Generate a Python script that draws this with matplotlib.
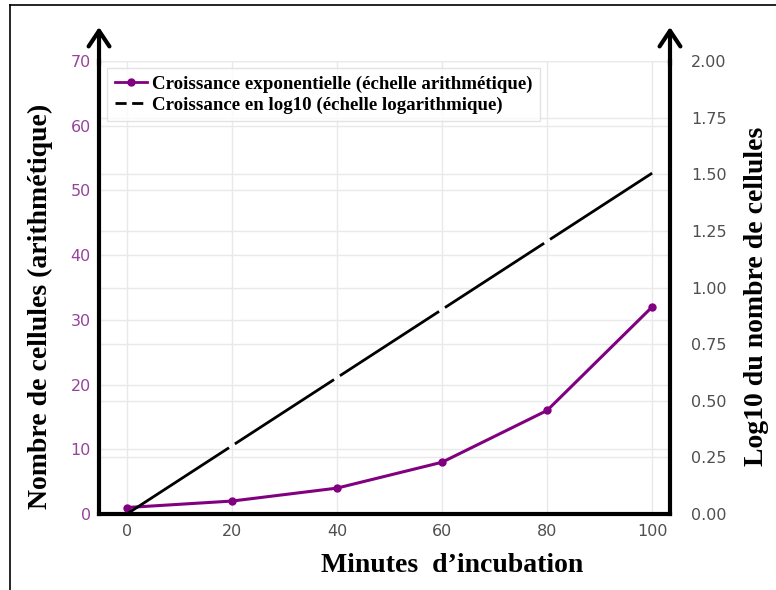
import matplotlib
matplotlib.use("Agg")
import matplotlib.pyplot as plt
from matplotlib.lines import Line2D

# Incubation time (minutes) and cell counts
minutes = [0, 20, 40, 60, 80, 100]
cells = [1, 2, 4, 8, 16, 32]
log_cells = [0.0, 0.301, 0.602, 0.903, 1.204, 1.505]

x_ticks = [0, 20, 40, 60, 80, 100]
left_ticks = [0, 10, 20, 30, 40, 50, 60, 70]
right_ticks = [0.00, 0.25, 0.50, 0.75, 1.00, 1.25, 1.50, 1.75, 2.00]

purple = "#800080"
purple_lbl = "#96449a"
gray_lbl = "#4f4f4f"
grid_c = "#e9e9e9"
serif = ["Liberation Serif", "DejaVu Serif"]

fig = plt.figure(figsize=(7.76, 5.90), dpi=100)
ax = fig.add_axes([0.1276, 0.1288, 0.7358, 0.7678])
ax2 = ax.twinx()

ax.set_xticks(x_ticks)
ax.set_yticks(left_ticks)
ax2.set_yticks(right_ticks)
ax2.set_yticklabels([f"{v:.2f}" for v in right_ticks])

ax.grid(True, color=grid_c, lw=1)
ax2.grid(True, axis="y", color=grid_c, lw=1)
ax.set_axisbelow(True)
ax2.set_axisbelow(True)

ax.tick_params(axis="x", length=0, pad=7, labelsize=11.5, labelcolor=gray_lbl)
ax.tick_params(axis="y", length=0, pad=6, labelsize=11.5, labelcolor=purple_lbl)
ax2.tick_params(axis="y", length=0, pad=15, labelsize=11.5, labelcolor=gray_lbl)

# Heavy black axis lines are drawn on the top axes so grids stay underneath
for sp in ax.spines.values():
    sp.set_visible(False)
ax2.spines["top"].set_visible(False)
for sp in (ax2.spines["left"], ax2.spines["bottom"], ax2.spines["right"]):
    sp.set_visible(True)
    sp.set_linewidth(3)
    sp.set_color("black")
    sp.set_capstyle("projecting")

# Arithmetic growth curve (left scale), drawn on the top axes above both grids
ax2.plot(minutes, cells, transform=ax.transData, color=purple, lw=2.2,
         marker="o", markersize=5, zorder=3)

# Log10 curve (right scale), drawn piecewise with small breaks at each sample
gap = 0.028
n = len(minutes)
for i in range(n - 1):
    t0 = gap if i > 0 else 0.0
    t1 = 1 - gap if i < n - 2 else 1.0
    xa = minutes[i] + t0 * (minutes[i + 1] - minutes[i])
    xb = minutes[i] + t1 * (minutes[i + 1] - minutes[i])
    ya = log_cells[i] + t0 * (log_cells[i + 1] - log_cells[i])
    yb = log_cells[i] + t1 * (log_cells[i + 1] - log_cells[i])
    ax2.plot([xa, xb], [ya, yb], color="black", lw=2, solid_capstyle="butt", zorder=3)

ax.set_xlim(-5.3, 103.4)
ax.set_ylim(0, 70)
ax2.set_xlim(-5.3, 103.4)
ax2.set_ylim(0, 2.0)

handles = [
    Line2D([], [], color=purple, lw=2, marker="o", markersize=5),
    Line2D([], [], color="black", lw=2, dashes=(4, 2)),
]
labels = [
    "Croissance exponentielle (échelle arithmétique)",
    "Croissance en log10 (échelle logarithmique)",
]
leg = ax2.legend(handles, labels, loc="upper left", bbox_to_anchor=(0.014, 0.985),
                 borderaxespad=0, handlelength=1.7, handletextpad=0.3,
                 labelspacing=0.2, borderpad=0.4, fancybox=False,
                 prop={"family": serif, "weight": "bold", "size": 13.6})
leg.get_frame().set_edgecolor("#dddddd")
leg.get_frame().set_linewidth(1)

# Arrowheads on the vertical axes
for xf in (0.0, 1.0):
    ax2.annotate("", xy=(xf, 1.075), xytext=(xf, 0.99), xycoords="axes fraction",
                 arrowprops=dict(arrowstyle="->,head_length=0.45,head_width=0.3",
                                 lw=3, color="black", mutation_scale=25,
                                 shrinkA=0, shrinkB=0),
                 annotation_clip=False)

fig.text(0.582, 0.042, "Minutes  d\u2019incubation", ha="center", va="center",
         family=serif, weight="bold", size=20)
fig.text(0.0515, 0.48, "Nombre de cellules (arithmétique)", ha="center", va="center",
         rotation=90, family=serif, weight="bold", size=20)
fig.text(0.9755, 0.497, "Log10 du nombre de cellules", ha="center", va="center",
         rotation=90, family=serif, weight="bold", size=20)

# Frame lines along the left and top edges
fig.add_artist(Line2D([10 / 776, 10 / 776], [0, 1 - 5 / 590], transform=fig.transFigure,
                      color="black", lw=1.2))
fig.add_artist(Line2D([10 / 776, 1], [1 - 5 / 590, 1 - 5 / 590], transform=fig.transFigure,
                      color="black", lw=1.2))

fig.savefig("out.png", dpi=100)
